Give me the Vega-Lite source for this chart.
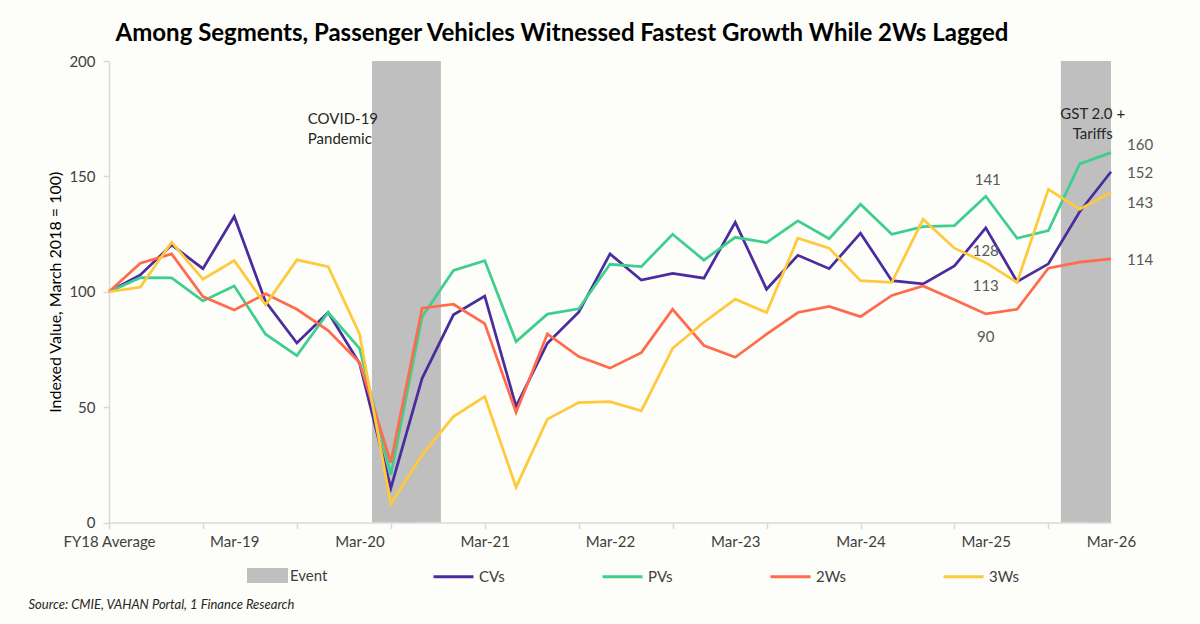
{
  "$schema": "https://vega.github.io/schema/vega-lite/v6.json",
  "width": 1002,
  "height": 461.5,
  "autosize": {"type": "none"},
  "padding": {"left": 109, "top": 61, "right": 89, "bottom": 101.5},
  "background": "#fdfdf9",
  "config": {"font": "Lato", "view": {"stroke": null}, "axis": {"grid": false}},
  "title": {
    "text": "Among Segments, Passenger Vehicles Witnessed Fastest Growth While 2Ws Lagged",
    "fontSize": 24, "fontWeight": "bold", "color": "#000000", "anchor": "middle", "dx": -48, "offset": 8
  },
  "datasets": {
    "series": [
      {"period": "FY18 Average", "CVs": 100, "PVs": 100, "2Ws": 100, "3Ws": 100},
      {"period": "Jun-18", "CVs": 107.3, "PVs": 106.1, "2Ws": 112.4, "3Ws": 102.0},
      {"period": "Sep-18", "CVs": 120.3, "PVs": 106.0, "2Ws": 116.4, "3Ws": 121.5},
      {"period": "Dec-18", "CVs": 110.0, "PVs": 96.0, "2Ws": 97.9, "3Ws": 105.4},
      {"period": "Mar-19", "CVs": 132.6, "PVs": 102.5, "2Ws": 92.1, "3Ws": 113.5},
      {"period": "Jun-19", "CVs": 95.7, "PVs": 81.6, "2Ws": 99.1, "3Ws": 94.3},
      {"period": "Sep-19", "CVs": 77.8, "PVs": 72.3, "2Ws": 92.4, "3Ws": 113.8},
      {"period": "Dec-19", "CVs": 91.0, "PVs": 91.0, "2Ws": 83.2, "3Ws": 110.9},
      {"period": "Mar-20", "CVs": 69.0, "PVs": 75.5, "2Ws": 69.3, "3Ws": 81.7},
      {"period": "Jun-20", "CVs": 14.9, "PVs": 20.7, "2Ws": 26.0, "3Ws": 8.1},
      {"period": "Sep-20", "CVs": 62.5, "PVs": 89.2, "2Ws": 92.9, "3Ws": 29.3},
      {"period": "Dec-20", "CVs": 90.0, "PVs": 109.2, "2Ws": 94.6, "3Ws": 45.9},
      {"period": "Mar-21", "CVs": 98.1, "PVs": 113.5, "2Ws": 86.2, "3Ws": 54.6},
      {"period": "Jun-21", "CVs": 50.3, "PVs": 78.4, "2Ws": 47.7, "3Ws": 15.3},
      {"period": "Sep-21", "CVs": 77.7, "PVs": 90.3, "2Ws": 81.7, "3Ws": 44.8},
      {"period": "Dec-21", "CVs": 91.1, "PVs": 92.6, "2Ws": 71.9, "3Ws": 52.0},
      {"period": "Mar-22", "CVs": 116.4, "PVs": 111.9, "2Ws": 66.9, "3Ws": 52.4},
      {"period": "Jun-22", "CVs": 105.1, "PVs": 110.9, "2Ws": 73.6, "3Ws": 48.4},
      {"period": "Sep-22", "CVs": 108.0, "PVs": 124.9, "2Ws": 92.4, "3Ws": 75.5},
      {"period": "Dec-22", "CVs": 105.9, "PVs": 113.7, "2Ws": 76.7, "3Ws": 86.8},
      {"period": "Mar-23", "CVs": 130.1, "PVs": 123.6, "2Ws": 71.6, "3Ws": 96.8},
      {"period": "Jun-23", "CVs": 101.1, "PVs": 121.3, "2Ws": 81.6, "3Ws": 91.0},
      {"period": "Sep-23", "CVs": 115.8, "PVs": 130.7, "2Ws": 91.0, "3Ws": 123.2},
      {"period": "Dec-23", "CVs": 110.0, "PVs": 123.0, "2Ws": 93.6, "3Ws": 118.9},
      {"period": "Mar-24", "CVs": 125.4, "PVs": 137.9, "2Ws": 89.2, "3Ws": 104.8},
      {"period": "Jun-24", "CVs": 104.8, "PVs": 124.9, "2Ws": 98.4, "3Ws": 104.1},
      {"period": "Sep-24", "CVs": 103.4, "PVs": 128.2, "2Ws": 102.5, "3Ws": 131.4},
      {"period": "Dec-24", "CVs": 111.2, "PVs": 128.7, "2Ws": 96.5, "3Ws": 118.9},
      {"period": "Mar-25", "CVs": 127.7, "PVs": 141.4, "2Ws": 90.4, "3Ws": 112.6},
      {"period": "Jun-25", "CVs": 104.4, "PVs": 123.2, "2Ws": 92.4, "3Ws": 104.0},
      {"period": "Sep-25", "CVs": 112.1, "PVs": 126.5, "2Ws": 110.2, "3Ws": 144.4},
      {"period": "Dec-25", "CVs": 134.7, "PVs": 155.4, "2Ws": 112.8, "3Ws": 135.8},
      {"period": "Mar-26", "CVs": 152.0, "PVs": 160.3, "2Ws": 114.2, "3Ws": 143.0}
    ],
    "events": [
      {"period": "Jun-20", "series": "Event", "value": 200, "note": "COVID-19\nPandemic"},
      {"period": "Sep-20", "series": "Event", "value": 200, "note": ""},
      {"period": "Dec-25", "series": "Event", "value": 200, "note": "GST 2.0 +\nTariffs"},
      {"period": "Mar-26", "series": "Event", "value": 200, "note": ""}
    ]
  },
  "encoding": {
    "x": {
      "field": "period",
      "type": "ordinal",
      "scale": {
        "type": "point",
        "padding": 0,
        "domain": ["FY18 Average", "Jun-18", "Sep-18", "Dec-18", "Mar-19", "Jun-19", "Sep-19", "Dec-19", "Mar-20", "Jun-20", "Sep-20", "Dec-20", "Mar-21", "Jun-21", "Sep-21", "Dec-21", "Mar-22", "Jun-22", "Sep-22", "Dec-22", "Mar-23", "Jun-23", "Sep-23", "Dec-23", "Mar-24", "Jun-24", "Sep-24", "Dec-24", "Mar-25", "Jun-25", "Sep-25", "Dec-25", "Mar-26"]
      },
      "axis": {
        "values": ["FY18 Average", "Dec-18", "Mar-19", "Sep-19", "Mar-20", "Jun-20", "Mar-21", "Dec-21", "Mar-22", "Sep-22", "Mar-23", "Jun-23", "Mar-24", "Dec-24", "Mar-25", "Sep-25", "Mar-26"],
        "labelExpr": "(slice(datum.value, 0, 3) == 'Mar' || datum.value == 'FY18 Average') ? datum.value : ''",
        "labelAngle": 0,
        "labelOverlap": false,
        "labelFontSize": 15,
        "labelColor": "#404040",
        "labelPadding": 6,
        "tickSize": 6,
        "tickWidth": 1.5,
        "tickColor": "#d9d9d9",
        "tickOpacity": {
          "condition": {"test": "indexof(['FY18 Average','Dec-18','Sep-19','Jun-20','Mar-21','Dec-21','Sep-22','Jun-23','Mar-24','Dec-24','Sep-25'], datum.value) >= 0", "value": 1},
          "value": 0
        },
        "domainColor": "#d9d9d9",
        "domainWidth": 1.5,
        "title": "Source: CMIE, VAHAN Portal, 1 Finance Research",
        "titleFontSize": 13,
        "titleFontStyle": "italic",
        "titleFontWeight": "normal",
        "titleColor": "#262626",
        "titleX": -81,
        "titleY": 82,
        "titleAlign": "left",
        "titleBaseline": "middle"
      }
    },
    "y": {
      "field": "value",
      "type": "quantitative",
      "scale": {"domain": [0, 200], "nice": false},
      "axis": {
        "values": [0, 50, 100, 150, 200],
        "labelFontSize": 15,
        "labelColor": "#404040",
        "labelPadding": 8,
        "tickSize": 6,
        "tickWidth": 1.5,
        "tickColor": "#d9d9d9",
        "domainColor": "#d9d9d9",
        "domainWidth": 1.5,
        "title": "Indexed Value, March 2018 = 100)",
        "titleFontSize": 16,
        "titleFontWeight": "normal",
        "titleColor": "#000000",
        "titlePadding": 5
      }
    }
  },
  "layer": [
    {
      "data": {"name": "events"},
      "layer": [
        {
          "mark": {"type": "bar", "width": 37.6, "clip": true},
          "encoding": {
            "fill": {
              "field": "series",
              "type": "nominal",
              "scale": {"domain": ["Event"], "range": ["#bfbfbf"]},
              "legend": {
                "orient": "none", "legendX": 138, "legendY": 494, "direction": "horizontal",
                "title": null, "padding": 0,
                "symbolType": "M-1,-0.37H1V0.37H-1Z", "symbolSize": 1681, "symbolStrokeWidth": 0,
                "labelOffset": 2, "labelFontSize": 15, "labelColor": "#404040"
              }
            }
          }
        }
      ]
    },
    {
      "data": {"name": "series"},
      "transform": [{"fold": ["CVs", "PVs", "2Ws", "3Ws"], "as": ["segment", "value"]}],
      "layer": [
        {
          "mark": {"type": "line", "strokeWidth": 2.75},
          "encoding": {
            "stroke": {
              "field": "segment",
              "type": "nominal",
              "scale": {"domain": ["CVs", "PVs", "2Ws", "3Ws"], "range": ["#4b2c9f", "#3ecf8e", "#ff6b4d", "#ffc93c"]},
              "legend": {
                "orient": "none", "legendX": 323, "legendY": 494, "direction": "horizontal",
                "title": null, "padding": 0,
                "symbolType": "stroke", "symbolSize": 1600, "symbolStrokeWidth": 3,
                "labelOffset": 4, "columnPadding": 91, "labelFontSize": 15, "labelColor": "#404040"
              }
            }
          }
        },
        {
          "transform": [{"filter": "datum.period == 'Mar-25' && datum.segment == 'PVs'"}],
          "mark": {"type": "text", "dy": -16, "dx": 2, "fontSize": 15, "color": "#595959"},
          "encoding": {"text": {"field": "value", "type": "quantitative", "format": ".0f"}}
        },
        {
          "transform": [{"filter": "datum.period == 'Mar-25' && datum.segment != 'PVs'"}],
          "mark": {"type": "text", "dy": 23, "dx": 0, "fontSize": 15, "color": "#595959"},
          "encoding": {"text": {"field": "value", "type": "quantitative", "format": ".0f"}}
        },
        {
          "transform": [{"filter": "datum.period == 'Mar-26' && datum.segment == 'PVs'"}],
          "mark": {"type": "text", "align": "left", "dx": 16, "dy": -8, "fontSize": 15, "color": "#595959"},
          "encoding": {"text": {"field": "value", "type": "quantitative", "format": ".0f"}}
        },
        {
          "transform": [{"filter": "datum.period == 'Mar-26' && (datum.segment == 'CVs' || datum.segment == '2Ws')"}],
          "mark": {"type": "text", "align": "left", "dx": 16, "dy": 1, "fontSize": 15, "color": "#595959"},
          "encoding": {"text": {"field": "value", "type": "quantitative", "format": ".0f"}}
        },
        {
          "transform": [{"filter": "datum.period == 'Mar-26' && datum.segment == '3Ws'"}],
          "mark": {"type": "text", "align": "left", "dx": 16, "dy": 10, "fontSize": 15, "color": "#595959"},
          "encoding": {"text": {"field": "value", "type": "quantitative", "format": ".0f"}}
        }
      ]
    },
    {
      "data": {"name": "events"},
      "transform": [{"filter": "datum.period == 'Jun-20'"}],
      "mark": {"type": "text", "align": "left", "baseline": "top", "dx": -83, "dy": 51, "fontSize": 15, "lineHeight": 20, "lineBreak": "\n", "color": "#262626"},
      "encoding": {"text": {"field": "note", "type": "nominal"}}
    },
    {
      "data": {"name": "events"},
      "transform": [{"filter": "datum.period == 'Dec-25'"}],
      "mark": {"type": "text", "align": "center", "baseline": "top", "dx": 13, "dy": 46, "fontSize": 15, "lineHeight": 20, "lineBreak": "\n", "color": "#262626"},
      "encoding": {"text": {"field": "note", "type": "nominal"}}
    }
  ]
}
